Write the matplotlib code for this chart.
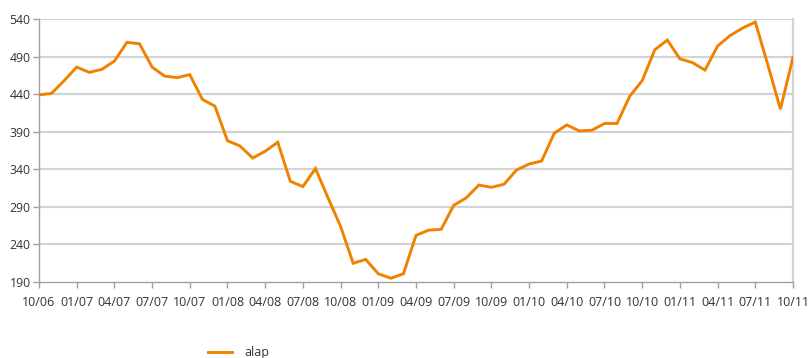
import matplotlib
matplotlib.use("Agg")
import matplotlib.pyplot as plt
from matplotlib.lines import Line2D

plt.rcParams['font.family'] = ['Open Sans', 'DejaVu Sans']

# Monthly values, 10/06 .. 10/11
alap = [
    439, 441, 458, 476, 469, 473, 484, 509, 507, 476, 464, 462,
    466, 433, 424, 378, 371, 355, 364, 376, 324, 317, 341, 302,
    264, 215, 220, 201, 195, 201, 252, 259, 260, 292, 302, 319,
    316, 320, 339, 347, 351, 388, 399, 391, 392, 401, 401, 437,
    458, 499, 512, 487, 482, 472, 504, 518, 528, 536, 479, 420,
    489,
]
tick_labels = ["10/06", "01/07", "04/07", "07/07", "10/07", "01/08", "04/08",
               "07/08", "10/08", "01/09", "04/09", "07/09", "10/09", "01/10",
               "04/10", "07/10", "10/10", "01/11", "04/11", "07/11", "10/11"]
y_ticks = [190, 240, 290, 340, 390, 440, 490, 540]

orange = "#F08200"
grid_c = "#D3D3D3"
axis_c = "#A0A0A0"
text_c = "#333333"

fig = plt.figure(figsize=(8.09, 3.58), dpi=100)
ax = fig.add_axes([0.0482, 0.2123, 0.9320, 0.7346])

months = list(range(len(alap)))
ax.plot(months, alap, color=orange, lw=2.1, solid_joinstyle="miter", zorder=3)

ax.set_xlim(0, len(alap) - 1)
ax.set_ylim(190, 540)
ax.set_yticks(y_ticks)
ax.set_xticks(list(range(0, len(alap), 3)))
ax.set_xticklabels(tick_labels)

for y in y_ticks[1:]:
    ax.axhline(y, color=grid_c, lw=1.6, zorder=1)

ax.spines["top"].set_visible(False)
ax.spines["right"].set_color(grid_c)
ax.spines["right"].set_linewidth(1.6)
for s in ["left", "bottom"]:
    ax.spines[s].set_color(axis_c)
    ax.spines[s].set_linewidth(1.0)

ax.tick_params(axis="both", colors=axis_c, length=4, width=1.0,
               labelcolor=text_c)
ax.tick_params(axis="x", pad=6, labelsize=9)
ax.tick_params(axis="y", pad=2, labelsize=8.8)

handle = Line2D([], [], color=orange, lw=2.1)
fig.legend([handle], ["alap"], loc="center left",
           bbox_to_anchor=(0.243, 0.014), frameon=False, fontsize=9,
           handlelength=1.95, handletextpad=0.95, labelcolor=text_c)

fig.savefig("out.png", dpi=100)
